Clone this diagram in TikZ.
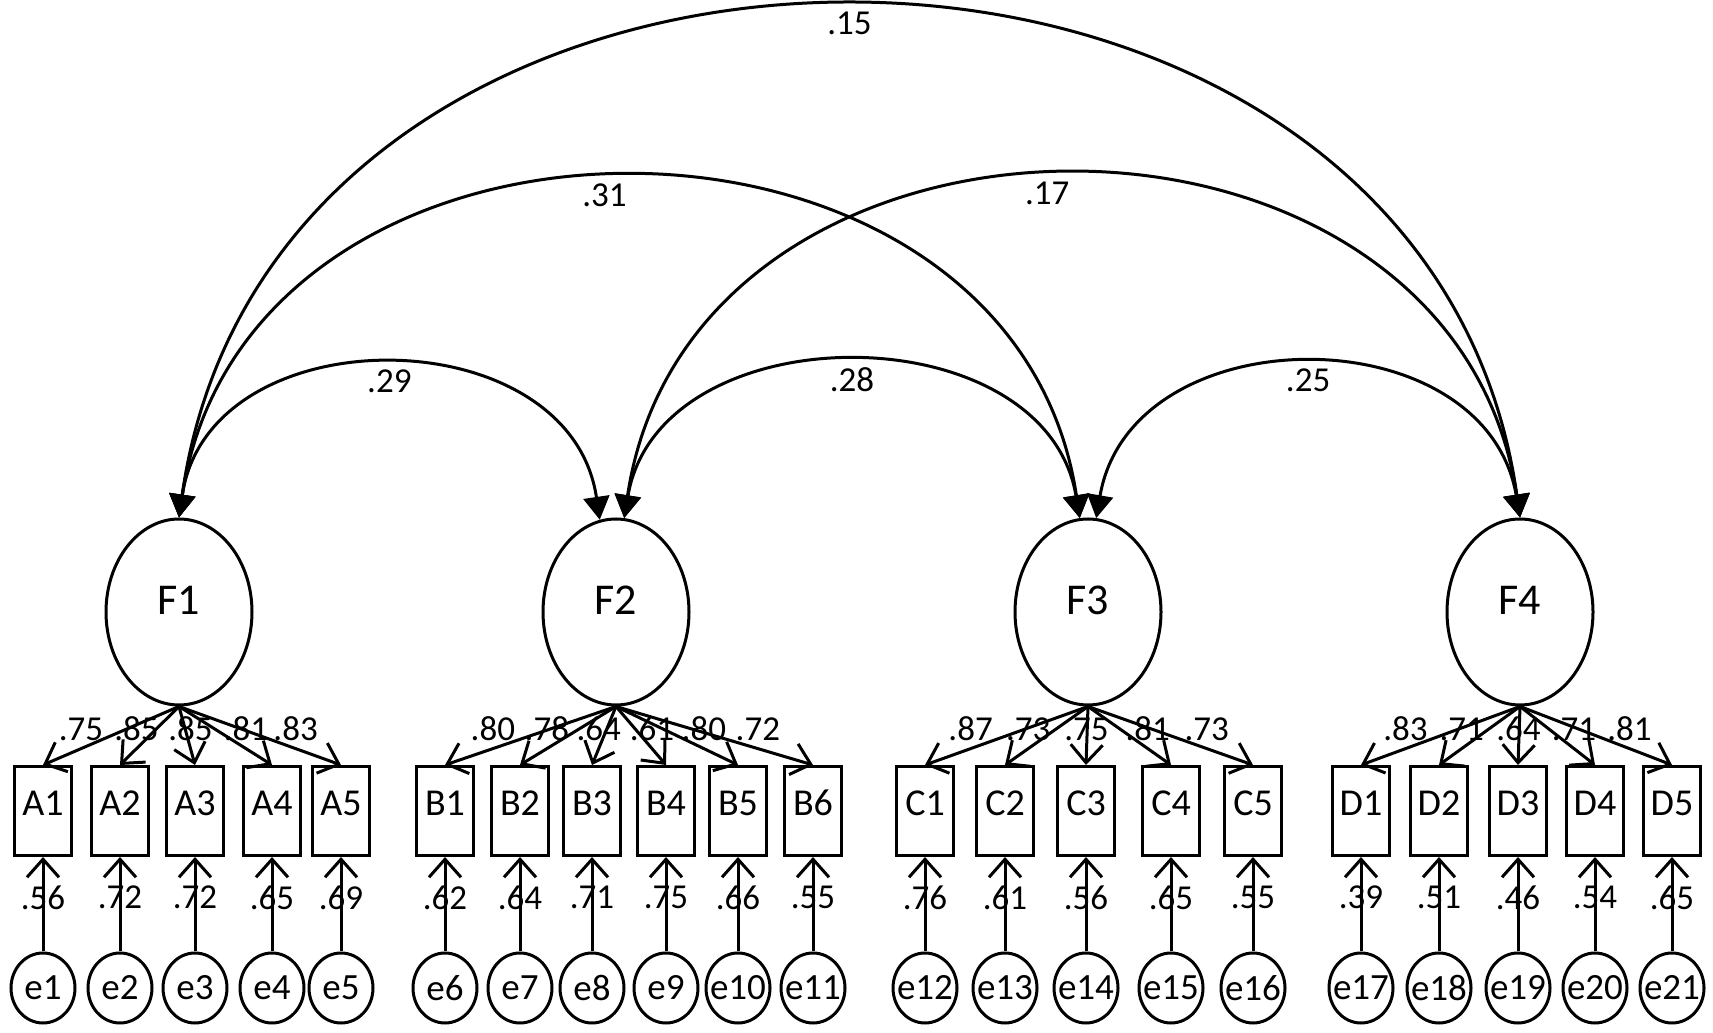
\documentclass[tikz,border=0pt]{standalone}
\usepackage{fontspec}
\setmainfont{Carlito}
\usetikzlibrary{arrows.meta,shapes.geometric}

\begin{document}
\begin{tikzpicture}[x=0.5pt,y=0.5pt,line width=1.5pt,font=\fontsize{17.5}{20}\selectfont,
  factor/.style={draw,ellipse,inner sep=0pt,minimum width=73pt,minimum height=93pt,
    text height=15pt,text depth=12pt,font=\fontsize{22}{26}\selectfont},
  item/.style={draw,inner sep=0pt,minimum width=28.5pt,minimum height=44.5pt,
    text height=13pt,text depth=8pt,font=\fontsize{19}{22}\selectfont},
  err/.style={draw,ellipse,inner sep=0pt,minimum width=32pt,minimum height=35pt,
    font=\fontsize{18.5}{22}\selectfont},
  load/.style={-{Straight Barb[length=9pt,width=16pt]}},
  corr/.style={{Triangle[length=11.5pt,width=13pt]}-{Triangle[length=11.5pt,width=13pt]}},
  coef/.style={inner sep=3pt}]
  \useasboundingbox (0,0) rectangle (1713,1033);
  \node[factor] (F1) at (179,421) {F1};
  \node[factor] (F2) at (616,421) {F2};
  \node[factor] (F3) at (1088,421) {F3};
  \node[factor] (F4) at (1520,421) {F4};
  % indicators and their errors
  \foreach \f/\v/\x/\l/\e/\r in {
    F1/A1/43/.75/e1/.56, F1/A2/120/.85/e2/.72, F1/A3/195/.85/e3/.72,
    F1/A4/272/.81/e4/.65, F1/A5/341/.83/e5/.69,
    F2/B1/445/.80/e6/.62, F2/B2/520/.78/e7/.64, F2/B3/592/.64/e8/.71,
    F2/B4/666/.61/e9/.75, F2/B5/738/.80/e10/.66, F2/B6/813/.72/e11/.55,
    F3/C1/925/.87/e12/.76, F3/C2/1005/.73/e13/.61, F3/C3/1086/.75/e14/.56,
    F3/C4/1171/.81/e15/.65, F3/C5/1253/.73/e16/.55,
    F4/D1/1361/.83/e17/.39, F4/D2/1439/.71/e18/.51, F4/D3/1518/.64/e19/.46,
    F4/D4/1595/.71/e20/.54, F4/D5/1672/.81/e21/.65}{
    \node[item] (\v) at (\x,222) {\v};
    \node[err] (\e) at (\x,45) {\makebox[0pt]{\e}};
    \draw[load] (\f.south) -- (\v.north) node[coef,pos=.72,above] {\l};
    \draw[load] (\e.north) -- (\v.south) node[coef,pos=.57] {\r};
  }
  % correlations
  \draw[corr] (F1.north) .. controls +(30,204) and +(-30,204) .. (F2.100)
    node[coef,inner sep=1.5pt,pos=.5,below] {.29};
  \draw[corr] (F2.85) .. controls +(35,207) and +(-35,207) .. (F3.95)
    node[coef,inner sep=1.5pt,pos=.5,below] {.28};
  \draw[corr] (F3.85) .. controls +(35,204) and +(-35,204) .. (F4.north)
    node[coef,inner sep=1.5pt,pos=.5,below] {.25};
  \draw[corr] (F1.north) .. controls +(68,452) and +(-68,452) .. (F3.95)
    node[coef,inner sep=1.5pt,pos=.48,below] {.31};
  \draw[corr] (F2.85) .. controls +(68,455) and +(-68,455) .. (F4.north)
    node[coef,inner sep=1.5pt,pos=.48,below] {.17};
  \draw[corr] (F1.north) .. controls +(96,680) and +(-96,680) .. (F4.north)
    node[coef,inner sep=1.5pt,pos=.5,below] {.15};
\end{tikzpicture}
\end{document}
